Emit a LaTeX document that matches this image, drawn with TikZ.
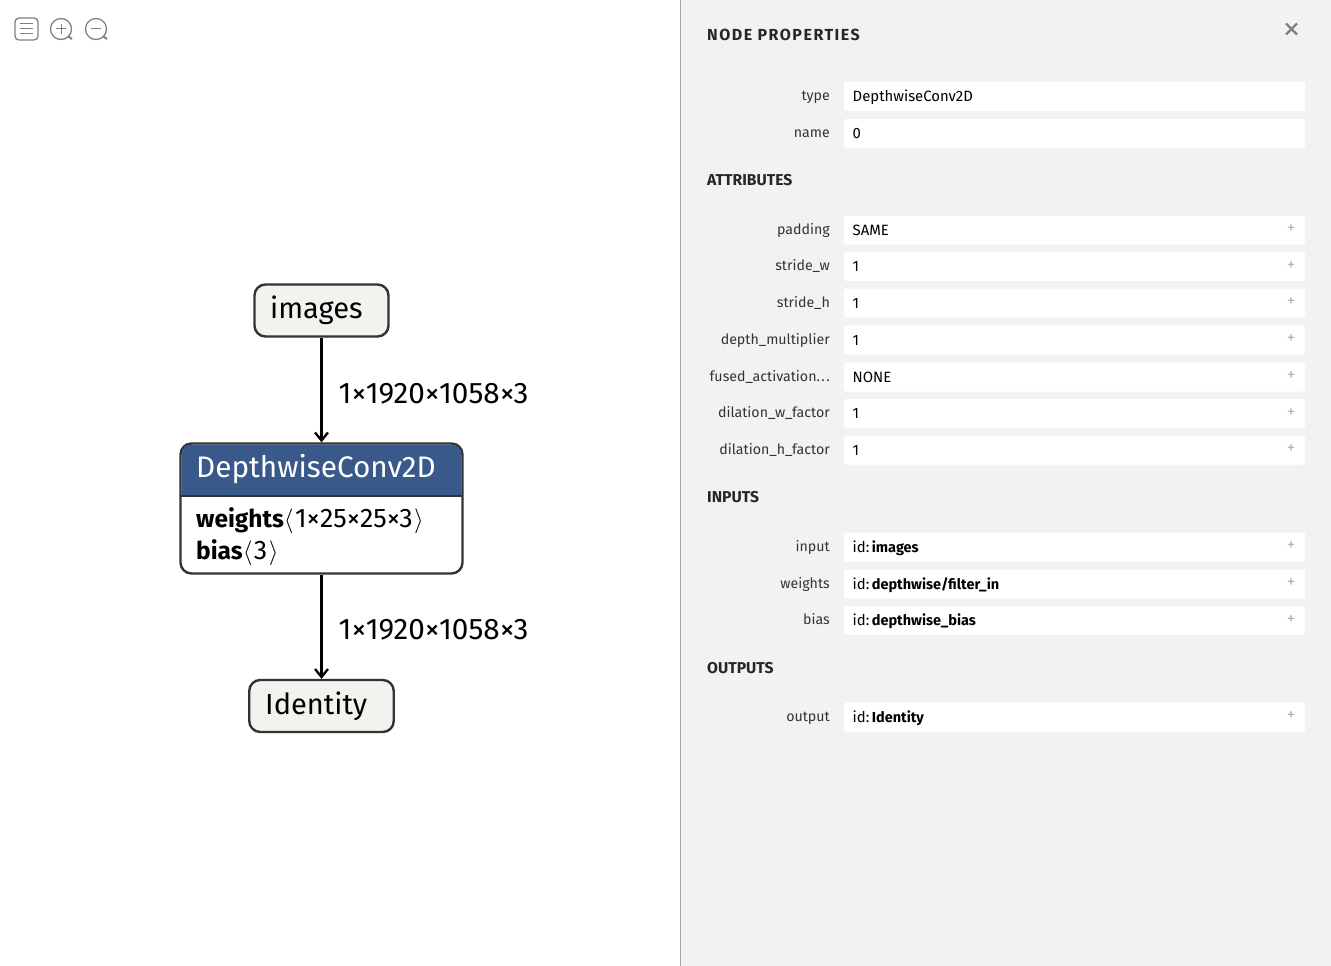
\documentclass[tikz,border=0pt]{standalone}
\usepackage{fontspec}
\setmainfont{Fira Sans}
\usetikzlibrary{arrows.meta}
\definecolor{panelgray}{HTML}{F1F2F2}
\definecolor{headblue}{HTML}{38598A}
\definecolor{nodeline}{HTML}{333333}
\definecolor{nodefill}{HTML}{F2F2EF}
\definecolor{labelgray}{HTML}{333333}
\definecolor{icongray}{HTML}{808080}
\newcommand{\idval}[1]{id:\kern-1.5pt\ {\fontsize{14.5}{16}\selectfont\bfseries #1}}
\tikzset{
  opnode/.style={draw=nodeline, line width=2.4pt, rounded corners=11pt, inner sep=0pt, text=black},
  edge/.style={-{Straight Barb[length=8pt,width=13pt]}, line width=2.3pt, color=black},
  graphtext/.style={font=\fontsize{29}{32}\selectfont, inner sep=0pt, anchor=base west},
  edgetext/.style={midway, xshift=16pt, yshift=-3.5pt, anchor=west, inner sep=0pt, font=\fontsize{29.7}{32}\selectfont},
  rowbox/.style={fill=white, rounded corners=2pt, minimum width=461pt, minimum height=29pt, inner sep=0pt, anchor=west},
  rowlabel/.style={font=\fontsize{14.2}{16}\selectfont, color=labelgray, anchor=base east, inner sep=0pt},
  rowvalue/.style={font=\fontsize{14.9}{16}\selectfont, color=black, anchor=base west, inner sep=0pt},
  rowplus/.style={font=\fontsize{17}{18}\selectfont, color=black!30, inner sep=0pt},
  heading/.style={font=\fontsize{15.7}{18}\selectfont\bfseries, color=black!85, anchor=base west, inner sep=0pt},
  icon/.style={draw=icongray, line width=1.3pt}
}
\begin{document}
\begin{tikzpicture}[x=1pt, y=-1pt]
\useasboundingbox (0,0) rectangle (1331,966);

% side panel
\fill [panelgray] (681,0) rectangle (1331,966);
\draw [black!35, line width=1pt] (680.5,0) -- (680.5,966);

% toolbar
\draw [icon, rounded corners=4pt] (15,18) rectangle (38,40);
\foreach \y in {24,29,34} \draw [icon, line width=1pt] (20,\y) -- (33,\y);
\foreach \x in {61,96} {
  \draw [icon] (\x,29) circle (10.5);
  \draw [icon, line width=2pt] (\x+7.5,36.5) -- (\x+11,39);
  \draw [icon, line width=1pt] (\x-5,29) -- (\x+5,29);
}
\draw [icon, line width=1pt] (61,24) -- (61,34);

% graph
\node (images) at (321.5,310.5) [opnode, fill=nodefill, minimum width=134pt, minimum height=52pt] {};
\node (conv) at (321.5,508.5) [opnode, fill=white, minimum width=282pt, minimum height=130pt] {};
\node (identity) at (321.5,706) [opnode, fill=nodefill, minimum width=144.5pt, minimum height=52pt] {};
\fill [headblue] (181.5,496) [rounded corners=10pt] -- (181.5,444.5) -- (461.5,444.5) [sharp corners] -- (461.5,496) -- cycle;
\draw [nodeline, line width=2.4pt] (180.5,496) -- (462.5,496);

\node (imagestxt) at (270,318) [graphtext] {images};
\node (convtxt) at (196,477) [graphtext, text=white, font=\fontsize{29.7}{32}\selectfont] {DepthwiseConv2D};
\node (weightstxt) at (196,527) [graphtext, font=\fontsize{26.8}{28}\selectfont] {{\fontsize{24.5}{28}\selectfont\bfseries weights}$\langle$\kern1.5pt 1×25×25×3\kern1.5pt$\rangle$};
\node (biastxt) at (196,559) [graphtext, font=\fontsize{26.8}{28}\selectfont] {{\fontsize{24.5}{28}\selectfont\bfseries bias}$\langle$\kern1.5pt 3\kern1.5pt$\rangle$};
\node (identitytxt) at (265,714) [graphtext] {Identity};

\draw [edge] (images) -- (conv) node[edgetext] {1×1920×1058×3};
\draw [edge] (conv) -- (identity) node[edgetext, yshift=1pt] {1×1920×1058×3};

% headings
\node (title) at (707,41) [heading, font=\fontsize{16}{18}\selectfont\bfseries\addfontfeature{LetterSpace=9.5}] {NODE PROPERTIES};
\node (attrs) at (707,185) [heading] {ATTRIBUTES};
\node (inputs) at (707,502) [heading] {INPUTS};
\node (outputs) at (707,673) [heading] {OUTPUTS};
\draw [icongray, line width=2.4pt] (1286,23.5) -- (1297,34.5) (1297,23.5) -- (1286,34.5);

% rows without a plus
\foreach \yy/\lab/\val/\nm in {96/type/DepthwiseConv2D/rtype, 133/name/0/rname} {
  \node (\nm) at (844,\yy+0.5) [rowbox] {};
  \node at (830,\yy+4) [rowlabel] {\lab};
  \node at (852.5,\yy+5) [rowvalue] {\val};
}
% rows with a plus
\foreach \yy/\lab/\val/\nm in {230/padding/SAME/rpad, 266.5/stride\_w/1/rsw, 303/stride\_h/1/rsh,
  340/depth\_multiplier/1/rdm, 377/{fused\_activation.\kern1.5pt.\kern1.5pt.}/NONE/rfa, 413.5/dilation\_w\_factor/1/rdw,
  450/dilation\_h\_factor/1/rdh, 547/input/{\idval{images}}/rin,
  584/weights/{\idval{depthwise/filter\_in}}/rwe, 620.5/bias/{\idval{depthwise\_bias}}/rbi,
  717/output/{\idval{Identity}}/rout} {
  \node (\nm) at (844,\yy) [rowbox] {};
  \node at (830,\yy+4) [rowlabel] {\lab};
  \node at (852.5,\yy+5) [rowvalue] {\val};
  \node at (1291,\yy-0.5) [rowplus] {+};
}
\end{tikzpicture}
\end{document}
